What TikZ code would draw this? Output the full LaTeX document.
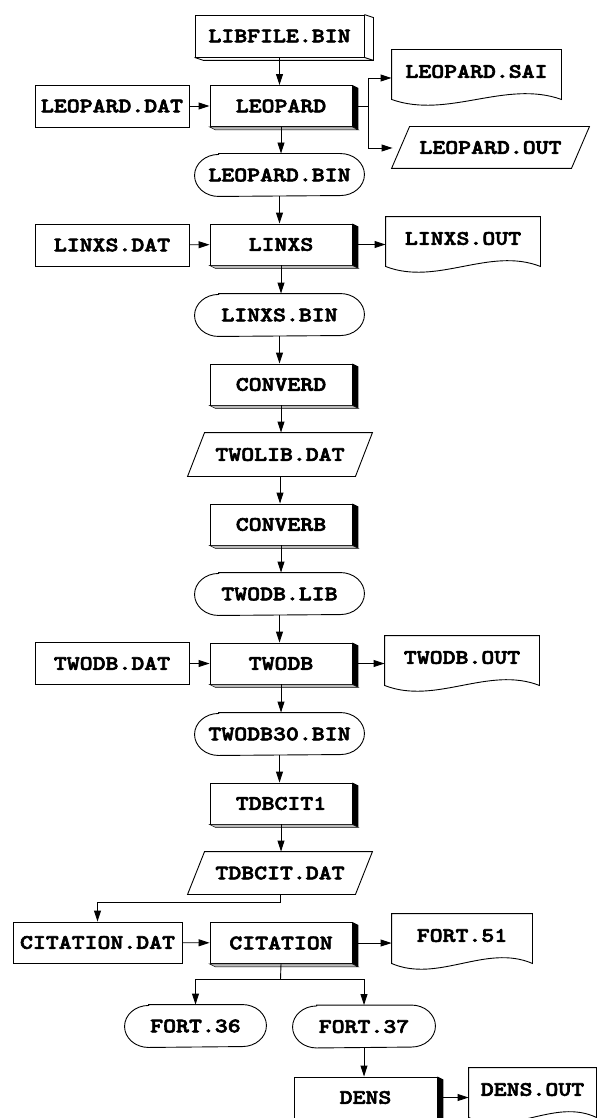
\documentclass[tikz,border=0pt]{standalone}
\usepackage{fontspec}
\newfontfamily\courb{lmmonolt10-bold.otf}[FakeStretch=1.2, FakeBold=3]
\usetikzlibrary{arrows.meta,calc}

\tikzset{
  base/.style={font=\courb\fontsize{20.5}{20.5}\selectfont, inner sep=0pt, line width=0.9pt},
  proc/.style={base, draw, fill=white, minimum width=142pt, minimum height=41pt},
  databox/.style={base, draw, minimum width=154pt, minimum height=42pt},
  stadium/.style={base, minimum width=169pt, minimum height=42pt},
  para/.style={base, minimum height=42pt},
  docnode/.style={base, minimum height=43pt},
  conn/.style={line width=0.9pt, -{Triangle[length=11pt,width=7pt]}},
  plain/.style={line width=0.9pt},
}

% shadow of a process box
\newcommand\procshadow[1]{%
  \fill (#1.north east) -- ++(6,3) -- ([shift={(6,3)}]#1.south east) -- (#1.south east) -- cycle;
  \filldraw[fill=gray!55, line width=0.5pt] (#1.south west) -- ++(6,3) -- ([shift={(6,3)}]#1.south east) -- (#1.south east) -- cycle;}
% document outline
\newcommand\docoutline[1]{%
  \coordinate (#1-r) at ([shift={(0,6)}]#1.south east);
  \coordinate (#1-l) at ([shift={(0,6)}]#1.south west);
  \draw[plain] (#1.north west) -- (#1.north east) -- (#1-r)
    .. controls ($(#1-r)!0.33!(#1-l)+(0,-20)$) and ($(#1-r)!0.67!(#1-l)+(0,20)$) .. (#1-l) -- cycle;}
% parallelogram outline
\newcommand\paraoutline[2]{%
  \draw[plain] ([xshift=#2]#1.north west) -- ([xshift=#2]#1.north east) -- ([xshift=-#2]#1.south east) -- ([xshift=-#2]#1.south west) -- cycle;}
% stadium outline with elliptic ends
\newcommand\stadoutline[1]{%
  \draw[plain] ([shift={(24,0)}]#1.north west) -- ([shift={(-24,0)}]#1.north east)
    arc[start angle=-90, end angle=90, x radius=24, y radius=21]
    -- ([shift={(24,0)}]#1.south west)
    arc[start angle=90, end angle=270, x radius=24, y radius=21] -- cycle;}

\begin{document}
\begin{tikzpicture}[x=1pt,y=-1pt]
\useasboundingbox (0,0) rectangle (598,1118);

% ---- nodes ----
\node[base, draw, fill=white, minimum width=169pt, minimum height=42pt] (lib) at (279.5,36) {LIBFILE.BIN};
\draw[plain] (lib.north east) -- ++(9,3) -- ([shift={(9,3)}]lib.south east) -- ([shift={(9,3)}]lib.south west) -- (lib.south west);
\draw[plain] (lib.south east) -- ++(9,3);

\node[proc] (leo) at (281,106) {LEOPARD};
\node[databox] (ldat) at (112,106) {LEOPARD.DAT};
\node[docnode, minimum width=169pt] (sai) at (476.5,71.5) {LEOPARD.SAI};
\node[para, minimum width=179pt, minimum height=41pt] (lout) at (490.5,147.5) {LEOPARD.OUT};
\node[stadium] (lbin) at (279.5,175) {LEOPARD.BIN};

\node[proc] (linxs) at (281,244.5) {LINXS};
\node[databox] (xdat) at (112,245) {LINXS.DAT};
\node[docnode, minimum width=154pt] (xout) at (463,238.5) {LINXS.OUT};
\node[stadium] (xbin) at (279.5,315) {LINXS.BIN};

\node[proc] (converd) at (281,384.5) {CONVERD};
\node[para, minimum width=167pt, minimum height=43pt] (twolib) at (280,454.5) {TWOLIB.DAT};
\node[proc] (converb) at (281,524.5) {CONVERB};
\node[stadium] (tlib) at (279.5,594) {TWODB.LIB};

\node[proc] (twodb) at (281,663.5) {TWODB};
\node[databox] (tdat) at (112,663.5) {TWODB.DAT};
\node[docnode, minimum width=154pt] (tout) at (462,657.5) {TWODB.OUT};
\node[stadium] (t30) at (279.5,734) {TWODB30.BIN};

\node[proc] (tdbcit) at (281,803.5) {TDBCIT1};
\node[para, minimum width=167pt] (tcdat) at (280,873) {TDBCIT.DAT};

\node[proc] (cit) at (281,943) {CITATION};
\node[base, draw, minimum width=169pt, minimum height=41pt] (cdat) at (97.5,942.5) {CITATION.DAT};
\node[docnode, minimum width=140pt] (f51) at (462,935.5) {FORT.51};
\node[stadium, minimum width=141pt] (f36) at (195.5,1026) {FORT.36};
\node[stadium, minimum width=142pt] (f37) at (364,1026.5) {FORT.37};

\node[proc, minimum width=143pt] (dens) at (365.5,1097.5) {DENS};
\node[docnode, minimum width=127pt] (dout) at (532.5,1089.5) {DENS.OUT};

% ---- outlines and shadows ----
\foreach \n in {leo,linxs,converd,converb,twodb,tdbcit,cit,dens} {\procshadow{\n}}
\foreach \n in {lbin,xbin,tlib,t30,f36,f37} {\stadoutline{\n}}
\docoutline{sai}
\docoutline{xout}
\docoutline{tout}
\docoutline{f51}
\docoutline{dout}
\paraoutline{lout}{9pt}
\paraoutline{twolib}{8.5pt}
\paraoutline{tcdat}{8.5pt}

% ---- connectors ----
\draw[conn] (lib.south) -- (lib.south |- leo.north);
\draw[conn] (ldat) -- (leo);
\coordinate (b1) at (368,106);
\coordinate (b1top) at (368,78);
\coordinate (b1bot) at (368,148);
\draw[plain] ([xshift=6pt]leo.east) -- (b1);
\draw[plain] (b1top) -- (b1bot);
\draw[conn] (b1top) -- (sai.west |- b1top);
\draw[conn] (b1bot) -- ([xshift=-8pt]lout.west |- b1bot);
\draw[conn] (leo.south) -- (leo.south |- lbin.north);

\draw[conn] (lbin.south) -- (lbin.south |- linxs.north);
\draw[conn] (xdat) -- (linxs);
\draw[conn] ([xshift=6pt]linxs.east) -- (xout.west |- linxs.east);
\draw[conn] (linxs.south) -- (linxs.south |- xbin.north);
\draw[conn] (xbin.south) -- (xbin.south |- converd.north);
\draw[conn] (converd.south) -- (converd.south |- twolib.north);
\draw[conn] (twolib.south) -- (twolib.south |- converb.north);
\draw[conn] (converb.south) -- (converb.south |- tlib.north);
\draw[conn] (tlib.south) -- (tlib.south |- twodb.north);
\draw[conn] (tdat) -- (twodb);
\draw[conn] ([xshift=6pt]twodb.east) -- (tout.west |- twodb.east);
\draw[conn] (twodb.south) -- (twodb.south |- t30.north);
\draw[conn] (t30.south) -- (t30.south |- tdbcit.north);
\draw[conn] (tdbcit.south) -- (tdbcit.south |- tcdat.north);
\draw[conn] (tcdat.south) -- ++(0,8) -| (cdat.north);
\draw[conn] (cdat) -- (cit);
\draw[conn] ([xshift=6pt]cit.east) -- (f51.west |- cit.east);
\coordinate (b2) at (280.5,979.5);
\draw[plain] (cit.south) -- (b2);
\draw[conn] (b2) -| (f36.north);
\draw[conn] (b2) -| (f37.north);
\draw[conn] (f37.south) -- (f37.south |- dens.north);
\draw[conn] ([xshift=6pt]dens.east) -- (dout.west |- dens.east);
\end{tikzpicture}
\end{document}
